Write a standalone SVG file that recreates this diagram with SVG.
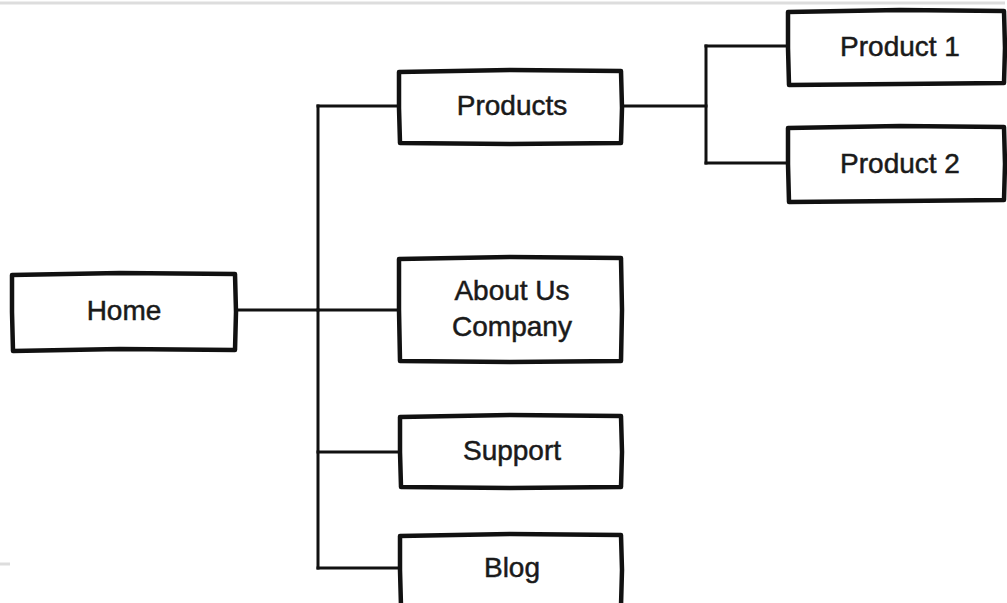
<svg xmlns="http://www.w3.org/2000/svg" width="1007" height="603" viewBox="0 0 1007 603">
  <style>
    .box { fill: #ffffff; stroke: #111111; stroke-width: 4.5; stroke-linejoin: round; }
    .wire { fill: none; stroke: #111111; stroke-width: 3; stroke-linecap: square; }
    .label { font-family: "Liberation Sans", Arial, sans-serif; font-size: 28px; fill: #1a1a1a; stroke: #1a1a1a; stroke-width: 0.5; text-anchor: middle; }
    .rule { stroke: #dddddd; stroke-width: 3; }
  </style>

  <rect width="1007" height="603" fill="#ffffff"/>
  <!-- page rules -->
  <line class="rule" x1="0" y1="3" x2="1005" y2="3"/>
  <line class="rule" x1="0" y1="564" x2="10" y2="564"/>

  <!-- connectors -->
  <g id="connectors">
    <path class="wire" d="M236 310 H318"/>
    <path class="wire" d="M318 106 V568"/>
    <path class="wire" d="M318 106 H399"/>
    <path class="wire" d="M318 310 H399"/>
    <path class="wire" d="M318 452 H400"/>
    <path class="wire" d="M318 568 H400"/>
    <path class="wire" d="M622 106 H706"/>
    <path class="wire" d="M706 46 V163"/>
    <path class="wire" d="M706 46 H788"/>
    <path class="wire" d="M706 163 H788"/>
  </g>

  <g id="home">
    <path class="box" d="M12 275 L120 273 L235 274 L236 312 L235 350 L120 349 L13 351 L12 312 Z"/>
    <text class="label" x="124" y="320">Home</text>
  </g>

  <g id="products">
    <path class="box" d="M399 72 L510 70 L621 71 L622 108 L621 143 L510 144 L400 143 L399 108 Z"/>
    <text class="label" x="512" y="115">Products</text>
  </g>

  <g id="product-1">
    <path class="box" d="M788 12 L900 10 L1004 11 L1005 48 L1004 83 L900 84 L789 85 L788 48 Z"/>
    <text class="label" x="900" y="56">Product 1</text>
  </g>

  <g id="product-2">
    <path class="box" d="M788 128 L900 126 L1004 127 L1005 164 L1004 200 L900 201 L789 202 L788 164 Z"/>
    <text class="label" x="900" y="173">Product 2</text>
  </g>

  <g id="about-us">
    <path class="box" d="M399 259 L510 257 L621 258 L622 310 L621 361 L510 362 L400 361 L399 310 Z"/>
    <text class="label" x="512" y="300">About Us</text>
    <text class="label" x="512" y="336">Company</text>
  </g>

  <g id="support">
    <path class="box" d="M400 417 L510 415 L621 416 L622 452 L621 487 L510 488 L401 487 L400 452 Z"/>
    <text class="label" x="512" y="460">Support</text>
  </g>

  <g id="blog">
    <path class="box" d="M400 536 L510 534 L621 535 L622 570 L621 606 L401 606 L400 570 Z"/>
    <text class="label" x="512" y="577">Blog</text>
  </g>
</svg>
